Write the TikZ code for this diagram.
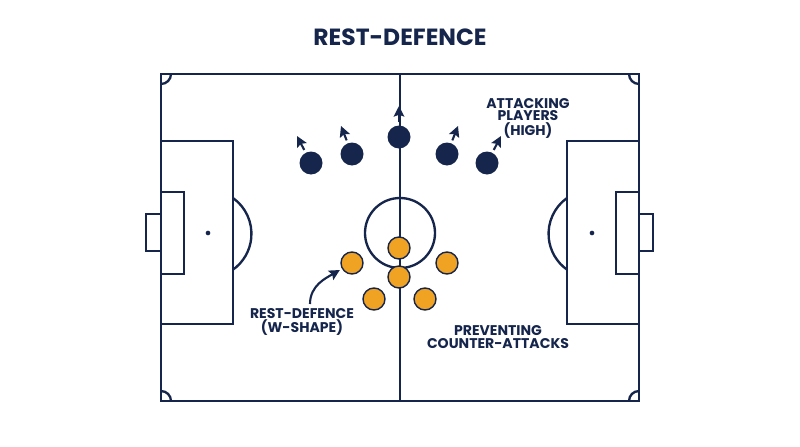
\documentclass[tikz,border=0pt]{standalone}
\usepackage{fontspec}
\setmainfont{Poppins}
\usetikzlibrary{arrows.meta}
\definecolor{navy}{HTML}{15254B}
\definecolor{amber}{HTML}{F0A223}

\tikzset{
  pitchline/.style={draw=navy, line width=2pt},
  attacker/.style={circle, fill=navy, minimum size=0.69cm, inner sep=0pt},
  defender/.style={circle, fill=amber, draw=navy, line width=1.2pt, minimum size=0.66cm, inner sep=0pt},
  run/.style={navy, line width=1.8pt, -{Stealth[length=9pt, width=9pt, inset=1.5pt]}, shorten <=2.5pt},
  label/.style={text=navy, font=\fontsize{12}{11}\selectfont\bfseries, align=center}
}

\begin{document}
\begin{tikzpicture}[x=0.03cm, y=0.03cm]
      \useasboundingbox[fill=white] (0,0) rectangle (800,-447);

      % Title
      \node[text=navy, font=\fontsize{20}{20}\selectfont\bfseries] (title) at (400,-37) {REST-DEFENCE};

      % Outer lines and halfway line
      \draw[pitchline] (161,-74) rectangle (639,-401);
      \draw[pitchline] (400,-74) -- (400,-401);
      \draw[pitchline] (400,-233) circle[radius=1.05cm];

      % Corner arcs
      \draw[pitchline] (171,-74) arc[start angle=0, end angle=-90, radius=0.3cm];
      \draw[pitchline] (629,-74) arc[start angle=180, end angle=270, radius=0.3cm];
      \draw[pitchline] (171,-401) arc[start angle=0, end angle=90, radius=0.3cm];
      \draw[pitchline] (629,-401) arc[start angle=180, end angle=90, radius=0.3cm];

      % Left penalty area
      \draw[pitchline] (161,-141) rectangle (233,-324);
      \draw[pitchline] (161,-192) rectangle (184,-274);
      \draw[pitchline] (161,-214) rectangle (146,-251);
      \fill[navy] (208,-233) circle (2pt);
      \draw[pitchline] (233,-198) arc[start angle=54.5, end angle=-54.5, radius=1.32cm];

      % Right penalty area
      \draw[pitchline] (639,-141) rectangle (567,-324);
      \draw[pitchline] (639,-192) rectangle (616,-274);
      \draw[pitchline] (639,-214) rectangle (653,-251);
      \fill[navy] (592,-233) circle (2pt);
      \draw[pitchline] (567,-198) arc[start angle=125.5, end angle=234.5, radius=1.32cm];

      % Attacking players (high)
      \node[attacker] (a1) at (311,-163) {};
      \node[attacker] (a2) at (352,-154) {};
      \node[attacker] (a3) at (399,-137) {};
      \node[attacker] (a4) at (447,-154) {};
      \node[attacker] (a5) at (487,-163) {};

      % Runs forward
      \coordinate (t1) at (297,-136);
      \coordinate (t2) at (341,-126);
      \coordinate (t3) at (399,-106);
      \coordinate (t4) at (458,-126);
      \coordinate (t5) at (501,-136);
      \draw[run] (a1) -- (t1);
      \draw[run] (a2) -- (t2);
      \draw[run] (a3) -- (t3);
      \draw[run] (a4) -- (t4);
      \draw[run] (a5) -- (t5);

      % Rest-defence players (W-shape)
      \node[defender] (d1) at (352,-263) {};
      \node[defender] (d2) at (399,-248) {};
      \node[defender] (d3) at (447,-263) {};
      \node[defender] (d4) at (399,-277) {};
      \node[defender] (d5) at (374,-299) {};
      \node[defender] (d6) at (425,-299) {};

      % Labels
      \node[label] (attlbl) at (528,-118) {ATTACKING\\PLAYERS\\(HIGH)};
      \node[label] (restlbl) at (302,-322) {REST-DEFENCE\\(W-SHAPE)};
      \node[label] (prevlbl) at (498,-337) {PREVENTING\\COUNTER-ATTACKS};

      % Curved pointer to the rest-defence
      \coordinate (rtail) at (310,-304);
      \draw[run, shorten <=0pt, shorten >=2pt] (rtail) to[out=90, in=210] (d1);
    \end{tikzpicture}
\end{document}
